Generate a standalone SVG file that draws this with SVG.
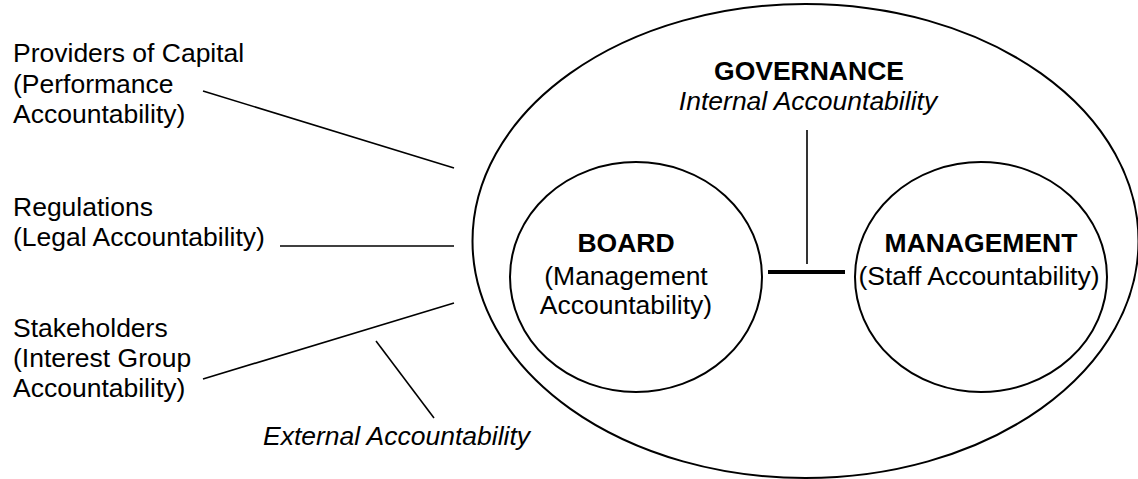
<svg xmlns="http://www.w3.org/2000/svg" width="1138" height="479" viewBox="0 0 1138 479">
<style>
text{font-family:"Liberation Sans",Arial,sans-serif;font-size:26.5px;fill:#000}
.b{font-weight:bold}
.i{font-style:italic}
.m{text-anchor:middle}
.shape{fill:none;stroke:#000;stroke-width:2}
.ln{stroke:#000;stroke-width:1.6;fill:none}
</style>
<rect width="1138" height="479" fill="#fff"/>
<g id="governance">
<ellipse class="shape" cx="805.5" cy="241" rx="333" ry="237"/>
<text class="b m" x="809" y="80">GOVERNANCE</text>
<text class="i m" x="808" y="110">Internal Accountability</text>
</g>
<g id="board">
<ellipse class="shape" cx="636" cy="277" rx="126" ry="115"/>
<text class="b m" x="626" y="252">BOARD</text>
<text class="m" x="626" y="285">(Management</text>
<text class="m" x="626" y="314">Accountability)</text>
</g>
<g id="management">
<ellipse class="shape" cx="981" cy="277" rx="126" ry="115"/>
<text class="b m" x="981" y="252">MANAGEMENT</text>
<text class="m" x="979" y="285">(Staff Accountability)</text>
</g>
<g id="providers">
<text x="13" y="62">Providers of Capital</text>
<text x="13" y="93">(Performance</text>
<text x="13" y="123">Accountability)</text>
</g>
<g id="regulations">
<text x="13" y="216">Regulations</text>
<text x="13" y="246">(Legal Accountability)</text>
</g>
<g id="stakeholders">
<text x="13" y="337">Stakeholders</text>
<text x="13" y="367">(Interest Group</text>
<text x="13" y="397">Accountability)</text>
</g>
<g id="external">
<text class="i" x="263" y="445">External Accountability</text>
</g>
<g id="connectors">
<line class="ln" x1="203" y1="91" x2="454" y2="168"/>
<line class="ln" x1="280" y1="246" x2="454" y2="246"/>
<line class="ln" x1="203" y1="379" x2="454" y2="303"/>
<line class="ln" x1="376" y1="341" x2="434" y2="418"/>
<line class="ln" x1="807" y1="130" x2="807" y2="264"/>
<line stroke="#000" stroke-width="4" x1="768" y1="272" x2="845" y2="272"/>
</g>
</svg>
